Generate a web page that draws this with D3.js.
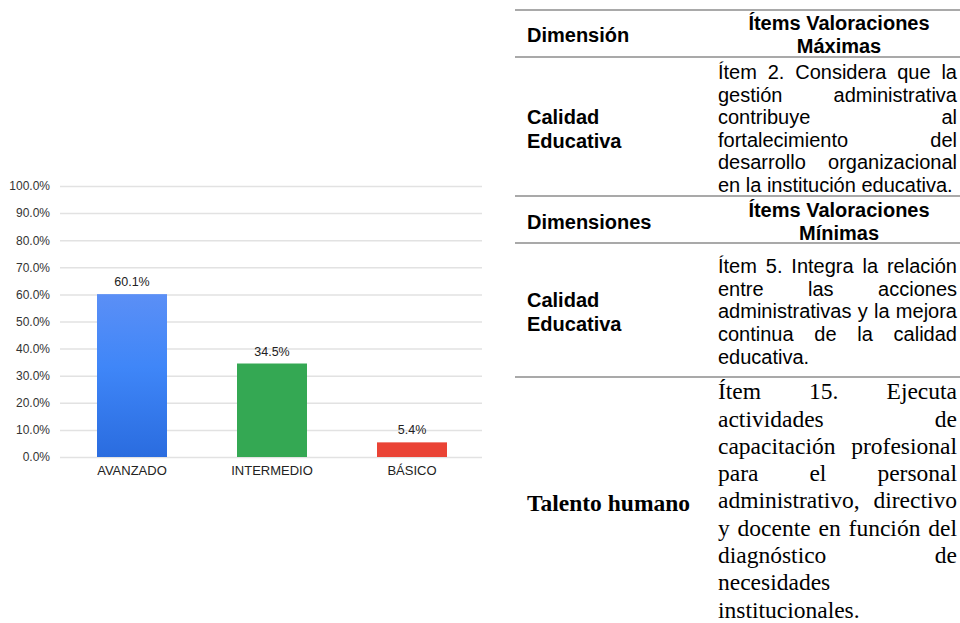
<!DOCTYPE html>
<html>
<head>
<meta charset="utf-8">
<script src="https://cdn.jsdelivr.net/npm/d3@7"></script>
<style>
  body { margin: 0; background: #fff; }
  svg { display: block; }
</style>
</head>
<body>
<svg id="fig" width="960" height="623"></svg>
<script>
// bar chart data
const categories = ['AVANZADO', 'INTERMEDIO', 'BÁSICO'];
const values = [0.601, 0.345, 0.054];
const barColors = ['url(#blueGrad)', '#34a853', '#ea4335'];
const yTicks = [0, 0.1, 0.2, 0.3, 0.4, 0.5, 0.6, 0.7, 0.8, 0.9, 1.0];

// table content (lines as broken in the picture)
const headMax = { dim: 'Dimensión', item: ['Ítems Valoraciones', 'Máximas'] };
const rowMax = { dim: ['Calidad', 'Educativa'], item: [
  'Ítem 2. Considera que la', 'gestión administrativa', 'contribuye al',
  'fortalecimiento del', 'desarrollo organizacional', 'en la institución educativa.'] };
const headMin = { dim: 'Dimensiones', item: ['Ítems Valoraciones', 'Mínimas'] };
const rowMin1 = { dim: ['Calidad', 'Educativa'], item: [
  'Ítem 5. Integra la relación', 'entre las acciones', 'administrativas y la mejora',
  'continua de la calidad', 'educativa.'] };
const rowMin2 = { dim: ['Talento humano'], item: [
  'Ítem 15. Ejecuta', 'actividades de', 'capacitación profesional', 'para el personal',
  'administrativo, directivo', 'y docente en función del', 'diagnóstico de',
  'necesidades', 'institucionales.'] };

const SANS = 'Liberation Sans, Arial, sans-serif';
const SERIF = 'Liberation Serif, Times New Roman, serif';

const svg = d3.select('#fig');

// ---------- chart ----------
const defs = svg.append('defs');
const grad = defs.append('linearGradient').attr('id', 'blueGrad')
  .attr('x1', 0).attr('y1', 0).attr('x2', 0).attr('y2', 1);
grad.append('stop').attr('offset', '0%').attr('stop-color', '#5b8ff6');
grad.append('stop').attr('offset', '45%').attr('stop-color', '#3f86f8');
grad.append('stop').attr('offset', '100%').attr('stop-color', '#2a6cdf');

const x = d3.scaleBand().domain(categories).range([62, 482])
  .paddingInner(0.5).paddingOuter(0.25);
const y = d3.scaleLinear().domain([0, 1]).range([457, 186]);

const yAxis = svg.append('g').attr('transform', 'translate(60,0)')
  .call(d3.axisLeft(y).tickValues(yTicks).tickFormat(d3.format('.1%')).tickSize(-422).tickPadding(10));
yAxis.select('.domain').remove();
yAxis.selectAll('.tick line').attr('stroke', '#e2e2e2').attr('stroke-width', 1.5);
yAxis.selectAll('.tick text').attr('fill', '#333').style('font-family', SANS).style('font-size', '12px');

svg.append('g').selectAll('rect').data(values).join('rect')
  .attr('x', (d, i) => x(categories[i]))
  .attr('y', d => y(d))
  .attr('width', x.bandwidth())
  .attr('height', d => y(0) - y(d))
  .attr('fill', (d, i) => barColors[i]);

svg.append('g').selectAll('text').data(values).join('text')
  .attr('x', (d, i) => x(categories[i]) + x.bandwidth() / 2)
  .attr('y', d => y(d) - 8)
  .attr('text-anchor', 'middle')
  .attr('fill', '#222').style('font-family', SANS).style('font-size', '12.5px')
  .text(d => d3.format('.1%')(d));

const xAxis = svg.append('g').attr('transform', 'translate(0,457)')
  .call(d3.axisBottom(x).tickSize(0).tickPadding(9));
xAxis.select('.domain').remove();
xAxis.selectAll('.tick text').attr('fill', '#222').style('font-family', SANS).style('font-size', '13px');

// ---------- table ----------
const T = { x0: 515, x1: 960, c1: 527, c2l: 718, c2r: 957 };
const rules = [10, 57, 196, 243, 377];
svg.append('g').selectAll('line').data(rules).join('line')
  .attr('x1', T.x0).attr('x2', T.x1).attr('y1', d => d).attr('y2', d => d)
  .attr('stroke', '#8d8d8d').attr('stroke-width', 1.5);

function textLine(str, xx, cy, font, size, weight, anchor) {
  return svg.append('text').attr('x', xx).attr('y', cy + size * 0.35)
    .attr('text-anchor', anchor || 'start').attr('fill', '#000')
    .style('font-family', font).style('font-size', size + 'px').style('font-weight', weight || 'normal')
    .text(str);
}

// justified paragraph: each line spread between left and right edge, last line left aligned
function justified(lines, top, lh, font, size) {
  lines.forEach((ln, li) => {
    const cy = top + li * lh;
    const words = ln.split(' ');
    if (li === lines.length - 1 || words.length < 2) {
      textLine(ln, T.c2l, cy, font, size);
      return;
    }
    const nodes = words.map(w => textLine(w, 0, cy, font, size));
    const widths = nodes.map(n => n.node().getComputedTextLength());
    const gap = (T.c2r - T.c2l - d3.sum(widths)) / (words.length - 1);
    let cx = T.c2l;
    nodes.forEach((n, i) => { n.attr('x', cx); cx += widths[i] + gap; });
  });
}

// header maxima
textLine(headMax.dim, T.c1, 35, SANS, 20, 'bold');
headMax.item.forEach((s, i) => textLine(s, 839, 23 + i * 23, SANS, 20, 'bold', 'middle'));
rowMax.dim.forEach((s, i) => textLine(s, T.c1, 117 + i * 24, SANS, 20, 'bold'));
justified(rowMax.item, 72, 22.6, SANS, 20);

// header minima
textLine(headMin.dim, T.c1, 222, SANS, 20, 'bold');
headMin.item.forEach((s, i) => textLine(s, 839, 210 + i * 23, SANS, 20, 'bold', 'middle'));
rowMin1.dim.forEach((s, i) => textLine(s, T.c1, 300 + i * 24, SANS, 20, 'bold'));
justified(rowMin1.item, 266, 22.7, SANS, 20);

textLine(rowMin2.dim[0], T.c1, 503, SERIF, 23.5, 'bold');
justified(rowMin2.item, 391, 27.3, SERIF, 23.5);
</script>
</body>
</html>
